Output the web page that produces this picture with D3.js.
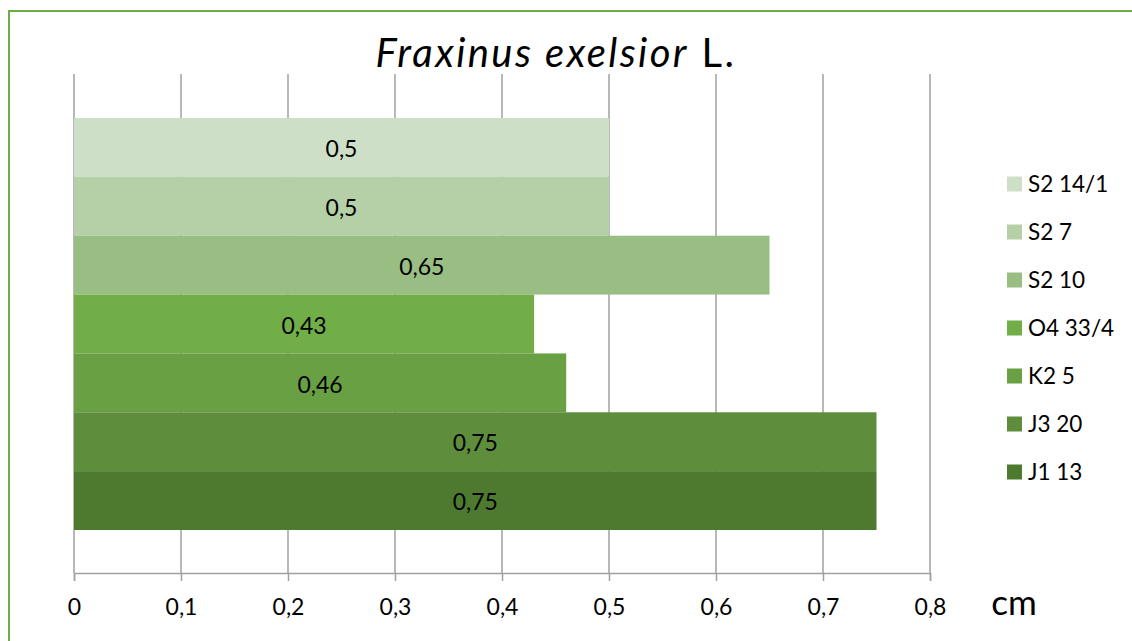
<!DOCTYPE html>
<html>
<head>
<meta charset="utf-8">
<script src="https://cdn.jsdelivr.net/npm/d3@7"></script>
<style>
  html, body { margin: 0; padding: 0; background: #fff; }
  svg { display: block; font-family: Lato, "Open Sans", sans-serif; }
</style>
</head>
<body>
<svg id="chart" width="1132" height="641"></svg>
<script>
// Sample series (top to bottom) and their measured values in cm
const series = ["S2 14/1", "S2 7", "S2 10", "O4 33/4", "K2 5", "J3 20", "J1 13"];
const values = [0.5, 0.5, 0.65, 0.43, 0.46, 0.75, 0.75];
const colors = ["#cddfc6", "#b5d0a7", "#98be83", "#72ae48", "#69a043", "#5e8d3b", "#4e7a30"];
const xTicks = [0, 0.1, 0.2, 0.3, 0.4, 0.5, 0.6, 0.7, 0.8];
const unitLabel = "cm";

const data = series.map((name, i) => ({ name, value: values[i], color: colors[i] }));

const svg = d3.select("#chart");
const W = 1132, H = 641;

// Decimal comma formatting
const locale = d3.formatLocale({ decimal: ",", thousands: " ", grouping: [3], currency: ["", ""] });
const fmt = v => locale.format("")(v);

const plot = { left: 74, right: 930, top: 74, bottom: 573 };
const x = d3.scaleLinear().domain([0, 0.8]).range([plot.left, plot.right]);
const y = d3.scaleBand().domain(series).range([118, 530]).paddingInner(0).paddingOuter(0);

// Outer frame
svg.append("rect")
  .attr("x", 9).attr("y", 11)
  .attr("width", W + 20).attr("height", H + 20)
  .attr("fill", "none")
  .attr("stroke", "#70ad47")
  .attr("stroke-width", 2);

// Title
const title = svg.append("text")
  .attr("x", 556).attr("y", 67)
  .attr("text-anchor", "middle")
  .attr("font-size", 40)
  .attr("letter-spacing", 2.4)
  .attr("fill", "#000");
title.append("tspan").attr("font-style", "italic").text("Fraxinus exelsior");
title.append("tspan").text(" L.");

// Vertical gridlines
svg.append("g")
  .selectAll("line")
  .data(xTicks)
  .join("line")
  .attr("x1", d => x(d)).attr("x2", d => x(d))
  .attr("y1", plot.top).attr("y2", plot.bottom)
  .attr("stroke", "#a0a0a0")
  .attr("stroke-width", 1.5);

// Bars
svg.append("g")
  .selectAll("rect")
  .data(data)
  .join("rect")
  .attr("x", x(0))
  .attr("y", d => y(d.name))
  .attr("width", d => x(d.value) - x(0))
  .attr("height", y.bandwidth())
  .attr("fill", d => d.color);

// Value labels centred in bars
svg.append("g")
  .selectAll("text")
  .data(data)
  .join("text")
  .attr("x", d => (x(0) + x(d.value)) / 2)
  .attr("y", d => y(d.name) + y.bandwidth() / 2)
  .attr("dy", "0.42em")
  .attr("text-anchor", "middle")
  .attr("font-size", 23)
  .attr("fill", "#000")
  .text(d => fmt(d.value));

// X axis
const axis = d3.axisBottom(x)
  .tickValues(xTicks)
  .tickFormat(fmt)
  .tickSize(8)
  .tickPadding(18);
const gx = svg.append("g")
  .attr("transform", `translate(0,${plot.bottom})`)
  .call(axis);
gx.select(".domain").attr("stroke", "#a0a0a0").attr("stroke-width", 1.5);
gx.selectAll(".tick line").attr("stroke", "#a0a0a0").attr("stroke-width", 1.5);
gx.selectAll(".tick text")
  .attr("font-family", "Lato, sans-serif")
  .attr("font-size", 23)
  .attr("fill", "#000");

// Unit label
svg.append("text")
  .attr("x", 1014).attr("y", 615)
  .attr("text-anchor", "middle")
  .attr("font-size", 35)
  .attr("fill", "#000")
  .text(unitLabel);

// Legend
const legend = svg.append("g")
  .selectAll("g")
  .data(data)
  .join("g")
  .attr("transform", (d, i) => `translate(1007,${184 + i * 48})`);
legend.append("rect")
  .attr("x", 0).attr("y", -7.5)
  .attr("width", 15).attr("height", 15)
  .attr("fill", d => d.color);
legend.append("text")
  .attr("x", 21).attr("y", 0)
  .attr("dy", "0.36em")
  .attr("font-size", 22.5)
  .attr("fill", "#000")
  .text(d => d.name);
</script>
</body>
</html>
